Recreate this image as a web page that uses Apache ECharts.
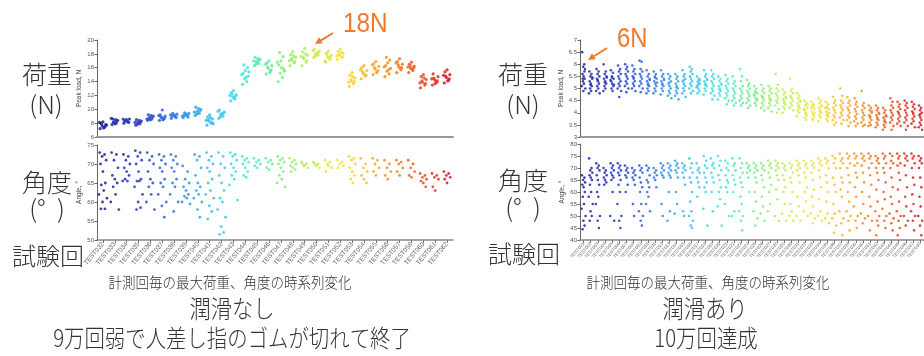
<!DOCTYPE html>
<html>
<head>
<meta charset="utf-8">
<script src="https://cdn.jsdelivr.net/npm/echarts@6/dist/echarts.min.js"></script>
<style>
  html, body { margin: 0; padding: 0; background: #fff; }
  #chart { width: 924px; height: 356px; }
</style>
</head>
<body>
<div id="chart"></div>
<script>
// 潤滑なし: TEST032 .. TEST062 (059 missing)
const leftTests = ['TEST032','TEST033','TEST034','TEST035','TEST036','TEST037','TEST038','TEST039','TEST040','TEST041',
  'TEST042','TEST043','TEST044','TEST045','TEST046','TEST047','TEST048','TEST049','TEST050','TEST051',
  'TEST052','TEST053','TEST054','TEST055','TEST056','TEST057','TEST058','TEST060','TEST061','TEST062']

// 潤滑あり: labels too small to read in the source, numbered in order
const rightTests = ['TEST001','TEST002','TEST003','TEST004','TEST005','TEST006','TEST007','TEST008','TEST009','TEST010',
  'TEST011','TEST012','TEST013','TEST014','TEST015','TEST016','TEST017','TEST018','TEST019','TEST020',
  'TEST021','TEST022','TEST023','TEST024','TEST025','TEST026','TEST027','TEST028','TEST029','TEST030',
  'TEST031','TEST032','TEST033','TEST034','TEST035','TEST036','TEST037','TEST038','TEST039','TEST040',
  'TEST041','TEST042','TEST043','TEST044','TEST045','TEST046','TEST047','TEST048']

// peak load per measurement, N (no lubrication)
const leftLoad = [
  [7.2, 7.4, 7.6, 7.8, 8.0, 8.2, 7.5, 7.9, 7.3, 8.1, 7.7],
  [7.8, 8.0, 8.2, 8.4, 8.6, 7.9, 8.3, 8.1, 8.5, 8.7],
  [8.0, 8.2, 8.4, 8.6, 8.3, 8.5, 8.1, 8.4, 8.2, 8.6],
  [7.7, 7.9, 8.1, 8.3, 8.5, 8.0, 8.2, 7.8, 8.4, 8.1],
  [8.4, 8.6, 8.8, 9.0, 9.2, 8.5, 8.9, 8.7, 9.1, 8.6],
  [8.4, 8.6, 8.8, 9.0, 9.2, 9.9, 8.7, 8.9, 8.5, 9.1],
  [8.7, 8.9, 9.1, 9.3, 9.0, 9.2, 8.8, 9.4, 9.0, 9.2],
  [8.8, 9.0, 9.2, 9.4, 9.1, 9.3, 8.9, 9.5, 9.2, 9.0],
  [9.1, 9.4, 9.7, 10.0, 10.3, 9.5, 9.8, 9.3, 10.1, 9.6],
  [7.7, 8.0, 8.3, 8.6, 8.9, 9.2, 8.1, 8.5, 8.8, 8.4, 7.9],
  [8.7, 9.0, 9.3, 9.6, 9.9, 9.2, 9.5, 8.9, 9.4, 9.7],
  [11.2, 11.5, 11.8, 12.1, 12.4, 12.7, 11.9, 12.2, 11.6, 12.0],
  [13.6, 14.0, 14.4, 14.8, 15.2, 15.6, 16.0, 16.4, 14.6, 15.0, 15.4],
  [16.3, 16.6, 16.9, 17.2, 17.5, 16.8, 17.1, 16.5, 17.3, 17.0],
  [15.1, 15.5, 15.9, 16.3, 16.7, 17.0, 15.7, 16.1, 15.3, 16.5],
  [14.0, 14.6, 15.2, 15.8, 16.4, 17.0, 17.6, 18.2, 16.0, 16.8, 15.5],
  [16.3, 16.7, 17.1, 17.5, 17.9, 18.3, 16.9, 17.3, 17.7, 17.0],
  [16.3, 16.8, 17.3, 17.8, 18.3, 18.8, 17.0, 17.5, 18.0, 17.6],
  [17.5, 17.8, 18.1, 18.4, 18.7, 17.9, 18.2, 17.7, 18.0, 18.5],
  [16.8, 17.2, 17.5, 17.8, 18.1, 18.4, 17.6, 17.9, 17.4, 17.0],
  [17.2, 17.5, 17.8, 18.1, 18.4, 18.7, 17.6, 17.9, 18.2, 17.7],
  [13.3, 13.7, 14.1, 14.5, 14.9, 15.3, 14.0, 14.3, 14.7, 13.9],
  [14.4, 14.8, 15.2, 15.6, 16.0, 16.3, 14.9, 15.4, 15.0, 15.7],
  [15.0, 15.4, 15.8, 16.2, 16.6, 16.9, 15.6, 16.0, 15.3, 16.4],
  [14.7, 15.1, 15.5, 15.9, 16.3, 16.7, 17.1, 17.5, 15.7, 16.1],
  [15.3, 15.7, 16.1, 16.5, 16.9, 17.3, 16.0, 16.4, 15.9, 16.7],
  [15.3, 15.6, 15.9, 16.2, 16.5, 16.8, 16.0, 16.3, 15.8, 16.1],
  [13.1, 13.5, 13.9, 14.3, 14.7, 15.0, 13.7, 14.1, 14.5, 13.8],
  [13.5, 13.9, 14.3, 14.7, 15.1, 13.7, 14.1, 14.5, 14.0, 14.4],
  [13.8, 14.2, 14.6, 15.0, 15.4, 15.7, 14.4, 14.8, 14.1, 14.9],
]

// angle per measurement, deg (no lubrication)
const leftAngle = [
  [73, 72.5, 72, 71, 70, 68, 65, 64.5, 63, 62, 61, 60, 58.2, 58.2],
  [73, 72.5, 71, 69, 67, 66, 65, 64, 62, 60, 58],
  [72.5, 72, 71, 70, 69, 68, 67, 66, 65.5, 65.5],
  [73.5, 73, 72, 71, 70, 68, 66, 65.5, 65.5, 64, 62, 60, 58.5, 58],
  [73, 72, 71, 70, 68, 66, 65, 64, 62, 60, 58],
  [72.5, 72, 71, 70, 69, 68, 66, 65, 64, 62, 60, 59, 56],
  [72.5, 72, 71, 70, 69, 68, 66, 65, 64, 62, 60, 57.5],
  [69.5, 68, 66, 65, 64, 63, 62, 61.5, 61, 60, 59.5],
  [72.5, 72, 71, 69, 67, 65, 64, 63, 62, 61, 60, 58, 56],
  [73, 72, 71, 70, 69, 68, 66, 65, 63, 62, 61, 59, 57.5, 55.5],
  [73, 72, 70, 69, 67, 65, 63, 61, 60, 58, 56, 53.5, 52, 51.5],
  [73, 72.5, 72, 71, 70, 69, 68, 67, 66, 64.5, 60.5],
  [72, 71.5, 71, 70.5, 70, 69, 68, 67, 66.5],
  [71.5, 71, 70.5, 70, 69.5, 69],
  [71.5, 71, 70.5, 70, 69, 68.5],
  [72, 71.5, 71, 70.5, 70, 69, 68, 67, 66, 65, 64],
  [71.5, 71, 70.5, 70, 69.5, 69, 68.5, 68],
  [70.5, 70, 69.5, 69, 70.2, 69.7],
  [70.5, 70, 69.5, 69, 70.2, 69.7],
  [71, 70.5, 70, 69, 68, 69.5],
  [71, 70.5, 70, 69.5, 69],
  [72, 71.5, 71, 70, 69, 68, 67, 66, 65],
  [71.5, 70, 69, 68, 67, 66, 65],
  [71.5, 71, 70, 69, 68, 67],
  [71, 70, 69, 68, 67, 66],
  [71, 70.5, 70, 69, 68, 67],
  [71, 70, 69, 68, 67, 66.5],
  [67.5, 67, 66.5, 66, 65.5, 65, 64],
  [67.5, 67, 66.5, 66, 64, 63],
  [68, 67.5, 67, 66.5, 66, 65],
]

// peak load per measurement, N (lubricated)
const rightLoad = [
  [6.5, 6.0, 5.9, 5.8, 5.6, 5.5, 5.4, 5.3, 5.2, 5.1, 5.0, 4.9, 5.7, 5.4],
  [5.7, 5.6, 5.5, 5.4, 5.3, 5.2, 5.1, 5.0, 4.9, 4.8, 5.45, 5.15],
  [5.8, 5.7, 5.6, 5.5, 5.4, 5.3, 5.2, 5.1, 5.0, 4.9, 4.8, 5.35],
  [6.0, 5.7, 5.6, 5.5, 5.4, 5.3, 5.2, 5.1, 5.0, 4.9, 5.45, 5.25],
  [5.75, 5.65, 5.5, 5.4, 5.3, 5.2, 5.1, 5.0, 4.9, 5.35, 5.15, 5.45],
  [5.95, 5.8, 5.7, 5.6, 5.5, 5.4, 5.3, 5.2, 5.1, 5.0, 4.9, 4.65],
  [6.0, 5.9, 5.8, 5.7, 5.6, 5.5, 5.4, 5.3, 5.2, 5.1, 5.0, 4.85],
  [5.95, 5.8, 5.7, 5.6, 5.5, 5.4, 5.3, 5.2, 5.1, 5.0, 4.9, 5.45],
  [6.15, 6.1, 5.8, 5.7, 5.6, 5.5, 5.4, 5.3, 5.2, 5.1, 5.0, 4.85],
  [5.75, 5.6, 5.5, 5.4, 5.3, 5.2, 5.1, 5.0, 4.9, 4.8, 5.35, 5.15],
  [5.7, 5.6, 5.5, 5.4, 5.3, 5.2, 5.1, 5.0, 4.9, 4.8, 5.25, 5.45],
  [5.75, 5.6, 5.5, 5.4, 5.3, 5.2, 5.1, 5.0, 4.9, 4.75, 5.35, 5.15],
  [5.6, 5.5, 5.4, 5.3, 5.2, 5.1, 5.0, 4.9, 4.8, 4.7, 4.6, 5.25],
  [5.6, 5.5, 5.4, 5.3, 5.2, 5.1, 5.0, 4.9, 4.8, 4.7, 4.55, 5.05],
  [5.75, 5.6, 5.5, 5.4, 5.3, 5.2, 5.1, 5.0, 4.9, 4.8, 4.65, 5.35],
  [5.9, 5.8, 5.7, 5.6, 5.5, 5.4, 5.3, 5.2, 5.1, 5.0, 4.9, 4.8],
  [5.5, 5.4, 5.3, 5.2, 5.1, 5.0, 4.9, 4.8, 5.25, 5.05, 5.35, 5.15],
  [5.75, 5.6, 5.5, 5.4, 5.3, 5.2, 5.1, 5.0, 4.9, 4.75, 5.35, 5.15],
  [5.75, 5.6, 5.5, 5.4, 5.3, 5.2, 5.1, 5.0, 4.9, 4.8, 4.7, 4.55],
  [5.5, 5.4, 5.3, 5.2, 5.1, 5.0, 4.9, 4.8, 4.7, 4.55, 5.15, 4.95],
  [5.55, 5.4, 5.3, 5.2, 5.1, 5.0, 4.9, 4.8, 4.7, 4.6, 4.5, 4.35],
  [5.5, 5.3, 5.2, 5.1, 5.0, 4.9, 4.8, 4.7, 4.6, 4.5, 4.4, 4.3],
  [5.8, 5.5, 5.3, 5.1, 5.0, 4.9, 4.8, 4.7, 4.6, 4.5, 4.4, 4.3],
  [5.35, 5.2, 5.1, 5.0, 4.9, 4.8, 4.7, 4.6, 4.5, 4.4, 4.3, 4.2],
  [5.1, 5.0, 4.9, 4.8, 4.7, 4.6, 4.5, 4.4, 4.3, 4.75, 4.55, 4.85],
  [5.15, 5.0, 4.9, 4.8, 4.7, 4.6, 4.5, 4.4, 4.3, 4.2, 4.1, 4.65],
  [5.1, 5.0, 4.9, 4.8, 4.7, 4.6, 4.5, 4.4, 4.3, 4.2, 4.05, 4.55],
  [5.6, 5.15, 5.0, 4.9, 4.8, 4.7, 4.6, 4.5, 4.4, 4.3, 4.15, 4.0],
  [4.95, 4.85, 4.75, 4.65, 4.55, 4.45, 4.35, 4.25, 4.15, 4.0, 4.6, 4.4],
  [5.4, 5.0, 4.9, 4.8, 4.7, 4.6, 4.5, 4.4, 4.3, 4.2, 4.1, 4.65],
  [4.8, 4.7, 4.6, 4.5, 4.4, 4.3, 4.2, 4.1, 4.0, 3.85, 4.45, 4.25],
  [4.5, 4.4, 4.3, 4.2, 4.1, 4.0, 3.9, 3.8, 3.7, 4.15, 4.35, 3.95],
  [4.45, 4.35, 4.25, 4.15, 4.05, 3.95, 3.85, 3.75, 3.7, 4.2, 4.0, 4.3],
  [4.6, 4.5, 4.4, 4.3, 4.2, 4.1, 4.0, 3.9, 3.8, 3.65, 4.25, 4.05],
  [4.45, 4.35, 4.25, 4.15, 4.05, 3.95, 3.85, 3.75, 3.65, 4.2, 4.0, 3.9],
  [4.65, 4.5, 4.4, 4.3, 4.2, 4.1, 4.0, 3.9, 3.8, 3.7, 3.6, 3.5],
  [5.0, 4.7, 4.5, 4.4, 4.3, 4.2, 4.1, 4.0, 3.9, 3.8, 3.7, 3.55],
  [4.65, 4.5, 4.4, 4.3, 4.2, 4.1, 4.0, 3.9, 3.8, 3.7, 3.6, 3.45],
  [4.6, 4.45, 4.35, 4.25, 4.15, 4.05, 3.95, 3.85, 3.75, 3.65, 3.55, 3.45],
  [4.9, 4.4, 4.3, 4.2, 4.1, 4.0, 3.9, 3.8, 3.7, 3.6, 3.5, 3.45],
  [4.3, 4.2, 4.1, 4.0, 3.9, 3.8, 3.7, 3.6, 3.5, 3.45, 4.05, 3.85],
  [4.3, 4.2, 4.1, 4.0, 3.9, 3.8, 3.7, 3.6, 3.5, 3.4, 3.95, 3.75],
  [4.2, 4.1, 4.0, 3.9, 3.8, 3.7, 3.6, 3.5, 3.4, 3.3, 3.85, 3.65],
  [4.6, 4.45, 4.3, 4.2, 4.1, 4.0, 3.9, 3.8, 3.7, 3.6, 3.45, 3.3],
  [4.45, 4.35, 4.25, 4.15, 4.05, 3.95, 3.85, 3.75, 3.65, 3.55, 3.45, 4.0],
  [4.5, 4.4, 4.3, 4.2, 4.1, 4.0, 3.9, 3.8, 3.7, 3.6, 3.45, 3.3],
  [4.45, 4.35, 4.25, 4.15, 4.05, 3.95, 3.85, 3.75, 3.65, 3.55, 3.4, 4.0],
  [4.3, 4.2, 4.1, 4.0, 3.9, 3.8, 3.7, 3.6, 3.5, 3.4, 3.3, 3.95],
]

// angle per measurement, deg (lubricated)
const rightAngle = [
  [67, 66, 65, 64, 63, 62, 60, 58, 55, 53, 50, 48, 46, 44.5],
  [74, 70, 69, 68, 67, 66, 65, 63, 60, 58, 55, 52, 50, 48],
  [72, 71, 70, 69, 67, 65, 63, 60, 58, 55, 50, 48, 45],
  [70, 69, 68, 67, 66, 65, 64, 63],
  [72, 71, 70, 69, 68, 67, 66, 65, 60, 50, 48],
  [72, 71, 70, 69, 68, 67, 65, 63, 60, 55, 50, 48, 45],
  [71, 70, 69, 68, 67, 66, 63, 60],
  [70, 69, 68, 67, 66, 65, 63, 55, 50],
  [71, 70, 69, 68, 66, 64, 62, 60, 55, 52, 50, 48, 46],
  [71, 70, 69, 67, 65, 64, 62, 60, 58, 55, 52],
  [70, 69, 68, 67, 66, 65, 62],
  [72, 71, 70, 69, 68, 67, 66, 55, 50],
  [72, 71, 70, 69, 68, 67, 66, 60, 52, 48],
  [73, 72, 71, 70, 69, 68, 66, 60, 55, 51],
  [72, 71, 70, 69, 68, 66, 63, 52, 50],
  [74, 72, 70, 68, 66, 64, 60, 56, 52, 50, 48, 46, 45],
  [72, 70, 69, 68, 66, 64, 62, 58],
  [75, 73, 71, 70, 68, 66, 64, 62, 60, 53, 46],
  [74, 72, 71, 70, 68, 66, 64, 60, 52],
  [75, 73, 71, 69, 67, 65, 62, 60, 57, 54, 46],
  [73, 72, 70, 69, 67, 65, 64, 62, 60, 55, 50],
  [74, 72, 71, 69, 67, 65, 63, 60, 52, 50],
  [74, 72, 70, 68, 66, 64, 62, 58, 55, 52, 50, 48, 44],
  [72, 71, 70, 69, 68, 66, 60],
  [72, 71, 70, 69, 68, 66, 64, 60, 56, 52, 49, 46],
  [72, 71, 70, 69, 67, 65, 62, 58, 54, 51, 48],
  [73, 72, 71, 70, 68, 66, 63, 60, 55, 52],
  [73, 72, 71, 70, 69, 67, 65, 61, 57, 50, 48],
  [72, 71, 70, 69, 67, 65, 62, 60, 55, 51, 48],
  [72, 71, 70, 68, 66, 64, 60, 55, 52, 50, 48],
  [73, 72, 71, 70, 69, 67, 64, 58, 54, 50, 48],
  [73, 72, 71, 70, 68, 66, 62, 60, 56, 52, 50],
  [73, 72, 71, 70, 68, 65, 61, 58, 54, 51, 49, 47],
  [74, 73, 72, 71, 69, 66, 62, 57, 52, 50, 48],
  [74, 73, 72, 70, 67, 64, 60, 56, 51, 49, 47],
  [75, 74, 72, 70, 66, 63, 60, 55, 51, 49, 46, 43],
  [76, 74, 73, 72, 70, 66, 64, 61, 58, 52, 49, 47, 42],
  [76, 75, 74, 72, 70, 67, 64, 60, 56, 52, 50, 48, 44],
  [76, 75, 74, 72, 71, 68, 66, 62, 58, 54, 50, 48, 45],
  [76, 75, 74, 73, 71, 68, 64, 60, 55, 51, 49, 47],
  [76, 75, 74, 72, 70, 67, 63, 58, 54, 50, 48, 44],
  [75, 74, 73, 72, 70, 68, 65, 61, 56, 52, 50, 48, 46, 42],
  [76, 75, 74, 72, 70, 68, 64, 60, 57, 53, 50, 48, 45],
  [76, 75, 73, 72, 70, 66, 62, 58, 55, 51, 49, 47, 44],
  [76, 75, 74, 72, 71, 68, 65, 61, 56, 52, 50, 48, 45, 42],
  [76, 75, 74, 73, 71, 67, 62, 58, 54, 50, 48, 46],
  [76, 75, 74, 72, 70, 66, 63, 59, 55, 52, 50, 48, 44],
  [75, 74, 73, 72, 70, 66, 62, 58, 54, 50, 48, 46, 42],
]

const JET = ['#2a2a9c', '#2e3ec6', '#3a78e4', '#3fbcf0', '#48e4e6', '#74f08c', '#c4f058', '#f6e23c', '#f4a632', '#ee642c', '#d62630']
// horizontal scatter of points inside one test column, px
const JITTER = [-4, 2, -1, 4, -3, 0, 3, -2, 1, -5, 5, -0.5, 2.5, -2.5]
const ORANGE = '#ef7a2c'
const JP_FONT = '"Noto Sans CJK JP", sans-serif'

function toPoints(groups, spread) {
  const pts = []
  groups.forEach((vals, gi) => {
    vals.forEach((v, k) => {
      pts.push({ value: [gi, v], symbolOffset: [JITTER[k % JITTER.length] * spread, 0] })
    })
  })
  return pts
}

function valueAxis(gridIndex, min, max, interval, name) {
  return {
    type: 'value', gridIndex, min, max, interval,
    name, nameLocation: 'middle', nameGap: 14,
    nameTextStyle: { fontSize: 6.5, color: '#444', fontFamily: 'Liberation Sans' },
    axisLine: { show: true, lineStyle: { color: '#666', width: 1 } },
    axisTick: { show: true, length: 2.5, lineStyle: { color: '#666' } },
    axisLabel: { fontSize: 6, color: '#555', margin: 3, fontFamily: 'Liberation Sans' },
    splitLine: { show: false },
  }
}

function categoryAxis(gridIndex, data, withLabels, fontSize) {
  return {
    type: 'category', gridIndex, data, boundaryGap: true,
    axisLine: { show: true, lineStyle: { color: withLabels ? '#888' : '#999', width: withLabels ? 1.5 : 2 } },
    axisTick: { show: withLabels, alignWithLabel: true, length: 3, lineStyle: { color: '#777' } },
    axisLabel: withLabels
      ? { show: true, interval: 0, rotate: 50, fontSize, color: '#666', margin: 3, fontFamily: 'Liberation Sans' }
      : { show: false },
    splitLine: { show: false },
  }
}

function scatter(xi, yi, data, size) {
  return {
    type: 'scatter', xAxisIndex: xi, yAxisIndex: yi, data,
    symbolSize: size, itemStyle: { opacity: 0.9 }, silent: true,
  }
}

function label(text, x, y, size, opts = {}) {
  return {
    type: 'text', x, y, scaleX: opts.scaleX || 1, originX: 0, originY: 0,
    style: {
      text, x: 0, y: 0, fill: opts.color || '#333',
      font: `${opts.weight || '300'} ${size}px ${opts.family || JP_FONT}`,
      textAlign: opts.align || 'center', textVerticalAlign: 'middle',
    },
  }
}

function arrow(x1, y1, x2, y2) {
  const dx = x2 - x1, dy = y2 - y1
  const len = Math.hypot(dx, dy)
  const ux = dx / len, uy = dy / len
  const bx = x2 - ux * 7, by = y2 - uy * 7
  return [
    { type: 'line', shape: { x1, y1, x2: bx, y2: by }, style: { stroke: ORANGE, lineWidth: 2 } },
    {
      type: 'polygon',
      shape: { points: [[x2, y2], [bx - uy * 3.5, by + ux * 3.5], [bx + uy * 3.5, by - ux * 3.5]] },
      style: { fill: ORANGE },
    },
  ]
}

const chart = echarts.init(document.getElementById('chart'))

chart.setOption({
  animation: false,
  backgroundColor: '#fff',
  grid: [
    { left: 97, top: 40, width: 356, height: 97 },
    { left: 97, top: 145, width: 356, height: 95 },
    { left: 580, top: 40, width: 350, height: 97 },
    { left: 580, top: 144, width: 350, height: 96 },
  ],
  xAxis: [
    categoryAxis(0, leftTests, false),
    categoryAxis(1, leftTests, true, 6.5),
    categoryAxis(2, rightTests, false),
    categoryAxis(3, rightTests, true, 4.5),
  ],
  yAxis: [
    valueAxis(0, 6, 20, 2, 'Peak load, N'),
    valueAxis(1, 50, 75, 5, 'Angle, °'),
    valueAxis(2, 3, 7, 0.5, 'Peak load, N'),
    valueAxis(3, 40, 80, 5, 'Angle, °'),
  ],
  visualMap: [
    { type: 'continuous', show: false, dimension: 0, min: 0, max: leftTests.length - 1, seriesIndex: [0, 1], inRange: { color: JET } },
    { type: 'continuous', show: false, dimension: 0, min: 0, max: rightTests.length - 1, seriesIndex: [2, 3], inRange: { color: JET } },
  ],
  series: [
    scatter(0, 0, toPoints(leftLoad, 0.7), 3.2),
    scatter(1, 1, toPoints(leftAngle, 0.8), 2.8),
    scatter(2, 2, toPoints(rightLoad, 0.35), 2.6),
    scatter(3, 3, toPoints(rightAngle, 0.4), 2.6),
  ],
  graphic: [
    label('荷重', 47, 74, 25),
    label('(N)', 46, 104, 25),
    label('角度', 47, 182, 25),
    label('(°  )', 47, 208, 25),
    label('試験回', 48, 256, 24),
    label('荷重', 523, 74, 25),
    label('(N)', 523, 104, 25),
    label('角度', 523, 180, 25),
    label('(°  )', 523, 207, 25),
    label('試験回', 524, 254, 24),

    label('18N', 343, 25, 27, { align: 'left', color: ORANGE, family: 'Liberation Sans', weight: 'normal', scaleX: 0.9 }),
    ...arrow(333, 33, 315, 44),
    label('6N', 617, 39, 28, { align: 'left', color: ORANGE, family: 'Liberation Sans', weight: 'normal', scaleX: 0.85 }),
    ...arrow(607, 48, 588, 60),

    label('計測回毎の最大荷重、角度の時系列変化', 230, 282, 15, { scaleX: 0.9 }),
    label('潤滑なし', 232, 308, 25, { scaleX: 0.85 }),
    label('9万回弱で人差し指のゴムが切れて終了', 232, 338, 24, { scaleX: 0.85 }),
    label('計測回毎の最大荷重、角度の時系列変化', 708, 282, 15, { scaleX: 0.9 }),
    label('潤滑あり', 705, 308, 25, { scaleX: 0.85 }),
    label('10万回達成', 706, 338, 24, { scaleX: 0.85 }),
  ],
})
</script>
</body>
</html>
